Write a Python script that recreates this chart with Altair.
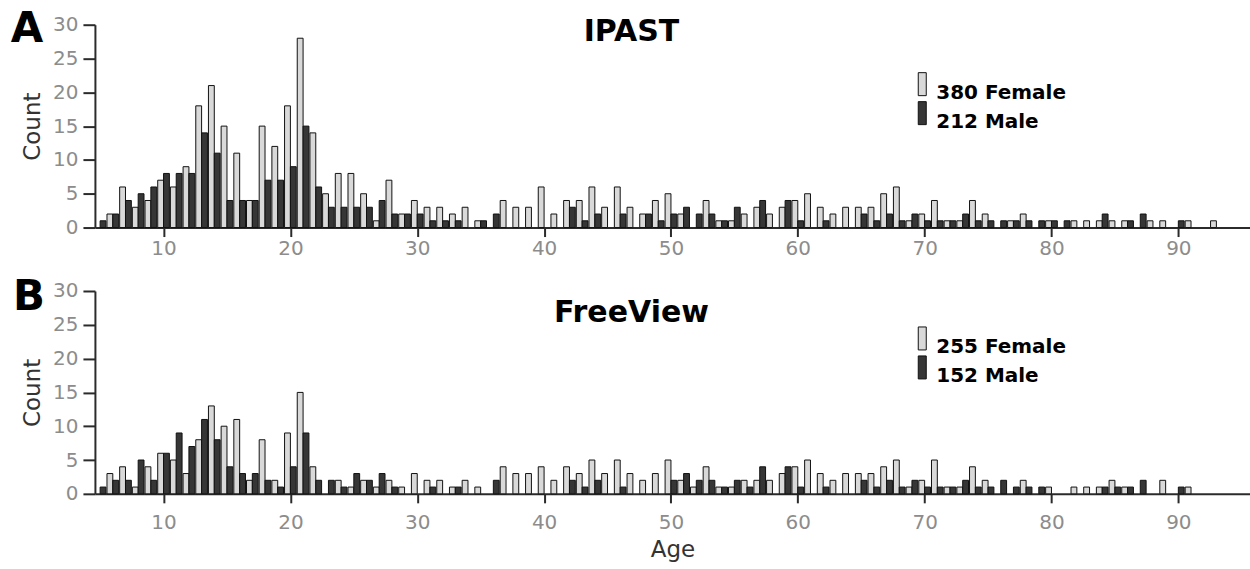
import altair as alt
import pandas as pd

ages = list(range(5, 94))

ipast_female = [0, 2, 6, 3, 4, 7, 6, 9, 18, 21,
                15, 11, 4, 15, 12, 18, 28, 14, 5, 8,
                8, 5, 1, 7, 2, 4, 3, 3, 2, 3,
                1, 0, 4, 3, 3, 6, 2, 4, 4, 6,
                3, 6, 3, 2, 4, 5, 2, 0, 4, 1,
                1, 2, 3, 2, 3, 4, 5, 3, 2, 3,
                3, 3, 5, 6, 1, 2, 4, 1, 1, 4,
                2, 0, 1, 2, 0, 1, 0, 1, 1, 1,
                1, 1, 0, 1, 1, 0, 1, 0, 1]
ipast_male = [1, 2, 4, 5, 6, 8, 8, 8, 14, 11,
              4, 4, 4, 7, 7, 9, 15, 6, 3, 3,
              3, 3, 4, 2, 2, 2, 1, 1, 1, 0,
              1, 2, 0, 0, 0, 0, 0, 3, 1, 2,
              0, 2, 0, 2, 1, 2, 3, 2, 2, 1,
              3, 0, 4, 0, 4, 1, 0, 1, 0, 0,
              2, 1, 2, 1, 2, 1, 1, 1, 2, 1,
              1, 1, 1, 1, 1, 1, 1, 0, 0, 2,
              0, 1, 2, 0, 0, 1, 0, 0, 0]
freeview_female = [0, 3, 4, 1, 4, 6, 5, 3, 8, 13,
                   10, 11, 2, 8, 2, 9, 15, 4, 0, 2,
                   1, 2, 1, 2, 1, 3, 2, 2, 1, 2,
                   1, 0, 4, 3, 3, 4, 2, 4, 3, 5,
                   3, 5, 3, 2, 3, 5, 2, 1, 4, 1,
                   1, 2, 2, 2, 3, 4, 5, 3, 2, 3,
                   3, 3, 4, 5, 1, 2, 5, 1, 1, 4,
                   2, 0, 0, 2, 0, 1, 0, 1, 1, 1,
                   2, 1, 0, 0, 2, 0, 1, 0, 0]
freeview_male = [1, 2, 2, 5, 2, 6, 9, 7, 11, 8,
                 4, 3, 3, 2, 1, 4, 9, 2, 2, 1,
                 3, 2, 3, 1, 0, 0, 1, 0, 1, 0,
                 0, 2, 0, 0, 0, 0, 0, 2, 1, 2,
                 0, 1, 0, 0, 0, 2, 3, 2, 2, 1,
                 2, 1, 4, 0, 4, 1, 0, 1, 0, 0,
                 2, 1, 2, 1, 2, 1, 1, 1, 2, 1,
                 1, 2, 1, 1, 1, 0, 0, 0, 0, 1,
                 1, 1, 2, 0, 0, 1, 0, 0, 0]

sexes = ["Female", "Male"]
fills = ["#d9d9d9", "#363636"]
x_ticks = [10, 20, 30, 40, 50, 60, 70, 80, 90]
y_ticks = [0, 5, 10, 15, 20, 25, 30]

FONT = "DejaVu Sans"
W, H = 1156, 203


def long_table(female, male):
    rows = []
    for a, f, m in zip(ages, female, male):
        rows.append({"age": a, "sex": "Female", "count": f})
        rows.append({"age": a, "sex": "Male", "count": m})
    df = pd.DataFrame(rows)
    return df[df["count"] > 0]


def panel(female, male, title, letter, leg_labels, title_y, letter_x, letter_y,
          leg_y, x_title, x_title_pad, x_label_pad):
    df = long_table(female, male)
    bars = alt.Chart(df).transform_calculate(
        x0="datum.sex == 'Female' ? datum.age - 0.46 : datum.age",
        x1="datum.sex == 'Female' ? datum.age : datum.age + 0.46",
    ).mark_bar(stroke="#111111", strokeWidth=1).encode(
        x=alt.X("x0:Q",
                scale=alt.Scale(domain=[4.59, 95.65], nice=False, zero=False),
                axis=alt.Axis(values=x_ticks, grid=False, tickSize=9,
                              labelPadding=x_label_pad, labelFontSize=20,
                              labelColor="#8c8c8c", labelFont=FONT,
                              domainColor="#2b2b2b", domainWidth=2,
                              tickColor="#2b2b2b", tickWidth=2,
                              title=x_title,
                              titleFontSize=23, titleFont=FONT,
                              titleFontWeight="normal", titleColor="#333333",
                              titlePadding=x_title_pad)),
        x2="x1:Q",
        y=alt.Y("count:Q",
                scale=alt.Scale(domain=[0, 30], nice=False),
                axis=alt.Axis(values=y_ticks, grid=False, tickSize=12,
                              labelPadding=5, labelFontSize=20,
                              labelColor="#8c8c8c", labelFont=FONT,
                              domainColor="#2b2b2b", domainWidth=2,
                              tickColor="#2b2b2b", tickWidth=2,
                              title="Count", titleFontSize=23, titleFont=FONT,
                              titleFontWeight="normal", titleColor="#333333",
                              titlePadding=8)),
        y2=alt.datum(0),
        color=alt.Color("sex:N", scale=alt.Scale(domain=sexes, range=fills),
                        legend=None),
    )

    title_layer = alt.Chart(pd.DataFrame({"t": [title]})).mark_text(
        font=FONT, fontSize=30, fontWeight="bold", color="#000000",
        align="center", baseline="alphabetic"
    ).encode(text="t:N", x=alt.value(537), y=alt.value(title_y))

    letter_layer = alt.Chart(pd.DataFrame({"t": [letter]})).mark_text(
        font=FONT, fontSize=42, fontWeight="bold", color="#000000",
        align="center", baseline="alphabetic"
    ).encode(text="t:N", x=alt.value(letter_x), y=alt.value(letter_y))

    layers = [bars, title_layer, letter_layer]
    for i, (lab, fill) in enumerate(zip(leg_labels, fills)):
        y0 = leg_y + i * 29
        sw = alt.Chart(pd.DataFrame({"s": [lab]})).mark_rect(
            fill=fill, stroke="#111111", strokeWidth=1
        ).encode(x=alt.value(824), x2=alt.value(832),
                 y=alt.value(y0), y2=alt.value(y0 + 23))
        tx = alt.Chart(pd.DataFrame({"t": [lab]})).mark_text(
            font=FONT, fontSize=20, fontWeight="bold", color="#000000",
            align="left", baseline="alphabetic"
        ).encode(text="t:N", x=alt.value(842), y=alt.value(y0 + 26))
        layers += [sw, tx]

    return alt.layer(*layers).properties(
        width=W, height=H,
        view=alt.ViewBackground(stroke="transparent", strokeWidth=0),
    )


top = panel(ipast_female, ipast_male, "IPAST", "A",
            ["380 Female", "212 Male"], 16, -68, 17, 48, "", 0, 2)
bottom = panel(freeview_female, freeview_male, "FreeView", "B",
               ["255 Female", "152 Male"], 31, -66, 19, 36, "Age", 6, 10)

chart = alt.vconcat(top, bottom, spacing=17.5).properties(
    padding={"left": 10, "top": 7.5, "right": 0, "bottom": 0},
    background="white",
).configure_view(stroke="transparent", strokeWidth=0).configure(font=FONT)

chart.save("out.html", embed_options={"renderer": "svg", "actions": False})
